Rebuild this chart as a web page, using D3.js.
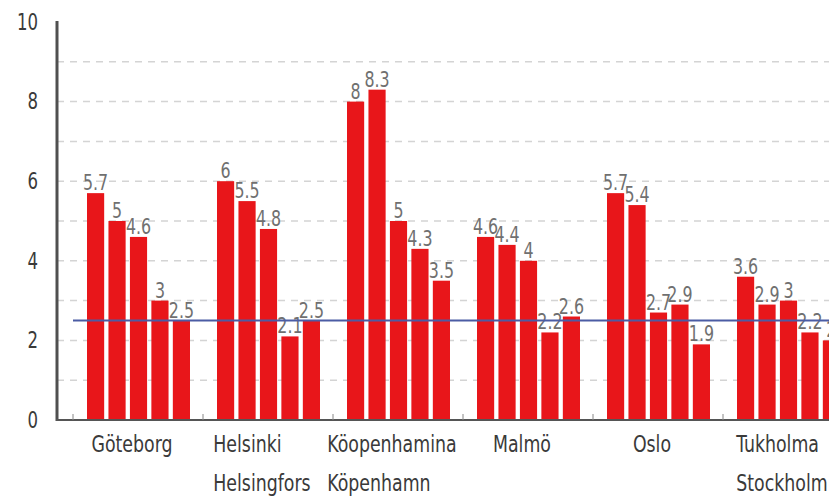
<!DOCTYPE html>
<html>
<head>
<meta charset="utf-8">
<script src="https://cdn.jsdelivr.net/npm/d3@7/dist/d3.min.js"></script>
<style>
body { margin: 0; background: #fff; }
svg { display: block; }
.lbl { font-family: "Liberation Sans Narrow", "DejaVu Sans Condensed", sans-serif; }
</style>
</head>
<body>
<script>
// ---- data ----
var cities = ["Göteborg", "Helsinki", "Köopenhamina", "Malmö", "Oslo", "Tukholma"];
var citiesSecond = ["", "Helsingfors", "Köpenhamn", "", "", "Stockholm"];
// five bars per city
var goteborg  = [5.7, 5, 4.6, 3, 2.5];
var helsinki  = [6, 5.5, 4.8, 2.1, 2.5];
var kopenhamn = [8, 8.3, 5, 4.3, 3.5];
var malmo     = [4.6, 4.4, 4, 2.2, 2.6];
var oslo      = [5.7, 5.4, 2.7, 2.9, 1.9];
var stockholm = [3.6, 2.9, 3, 2.2, 2];
var values = [goteborg, helsinki, kopenhamn, malmo, oslo, stockholm];
var meanLine = 2.5;
var yTicks = [0, 2, 4, 6, 8, 10];

var W = 829, H = 496;
var squeeze = 0.84;   // narrow the condensed font a bit more

var svg = d3.select("body").append("svg")
    .attr("width", W)
    .attr("height", H);

var y = d3.scaleLinear().domain([0, 10]).range([420, 22]);
var x0 = d3.scaleBand().domain(cities).range([73, 853]);
var x1 = d3.scaleBand().domain(d3.range(5)).range([14, 117]).paddingInner(0.2);

// gradient for top frame line
var grad = svg.append("defs").append("linearGradient")
    .attr("id", "topfade").attr("x1", "0%").attr("x2", "100%");
grad.append("stop").attr("offset", "0%").attr("stop-color", "#4d4d4d");
grad.append("stop").attr("offset", "85%").attr("stop-color", "#5a5a5a");
grad.append("stop").attr("offset", "100%").attr("stop-color", "#b5b5b5");

// dashed grid
svg.append("g").selectAll("line")
  .data(d3.range(1, 10))
  .enter().append("line")
    .attr("x1", 57).attr("x2", W)
    .attr("y1", function(d) { return y(d); })
    .attr("y2", function(d) { return y(d); })
    .attr("stroke", "#d4d4d4")
    .attr("stroke-width", 1.5)
    .attr("stroke-dasharray", "7,6");

// bars
var groups = svg.append("g").selectAll("g")
  .data(values)
  .enter().append("g")
    .attr("transform", function(d, i) { return "translate(" + x0(cities[i]) + ",0)"; });

groups.selectAll("rect")
  .data(function(d) { return d; })
  .enter().append("rect")
    .attr("x", function(d, i) { return x1(i); })
    .attr("y", function(d) { return y(d); })
    .attr("width", x1.bandwidth())
    .attr("height", function(d) { return y(0) - y(d); })
    .attr("fill", "#e8161a");

// mean line
svg.append("line")
    .attr("x1", 73).attr("x2", W)
    .attr("y1", y(meanLine)).attr("y2", y(meanLine))
    .attr("stroke", "#4b5ca4")
    .attr("stroke-width", 2);

// value labels
groups.selectAll("text")
  .data(function(d) { return d; })
  .enter().append("text")
    .attr("class", "lbl")
    .attr("transform", function(d, i) {
      return "translate(" + (x1(i) + x1.bandwidth() / 2) + "," + (y(d) - 3) + ") scale(" + squeeze + ",1)";
    })
    .attr("text-anchor", "middle")
    .attr("font-size", 21)
    .attr("fill", "#707070")
    .text(function(d) { return String(d); });

// frame
svg.append("line")
    .attr("x1", 57).attr("x2", W).attr("y1", 22).attr("y2", 22)
    .attr("stroke", "url(#topfade)").attr("stroke-width", 3);
svg.append("line")
    .attr("x1", 57).attr("x2", 57).attr("y1", 21).attr("y2", 421)
    .attr("stroke", "#505050").attr("stroke-width", 3);
svg.append("line")
    .attr("x1", 56).attr("x2", W).attr("y1", 420).attr("y2", 420)
    .attr("stroke", "#555").attr("stroke-width", 2);

// small ticks at band boundaries
svg.append("g").selectAll("line")
  .data(cities)
  .enter().append("line")
    .attr("x1", function(d) { return x0(d); })
    .attr("x2", function(d) { return x0(d); })
    .attr("y1", 420).attr("y2", 414)
    .attr("stroke", "#888").attr("stroke-width", 1);

// y axis labels
var yAxis = svg.append("g")
    .attr("transform", "translate(57,0)")
    .call(d3.axisLeft(y).tickValues(yTicks).tickSize(0).tickPadding(19));
yAxis.select(".domain").remove();
yAxis.selectAll("text")
    .attr("class", "lbl")
    .attr("font-size", 23)
    .attr("fill", "#3a3a3a")
    .attr("x", -19 / 0.8)
    .attr("transform", "scale(0.8,1)");

// category labels (two lines, left aligned block centred in band)
cities.forEach(function(c, i) {
  var g = svg.append("g");
  var t1 = g.append("text").attr("class", "lbl")
      .attr("font-size", 23).attr("fill", "#3a3a3a").text(c);
  var t2 = g.append("text").attr("class", "lbl")
      .attr("font-size", 23).attr("fill", "#3a3a3a").text(citiesSecond[i]);
  var w = squeeze * Math.max(t1.node().getComputedTextLength(), t2.node().getComputedTextLength());
  var left = x0(c) + x0.bandwidth() / 2 - 6 - w / 2;
  t1.attr("transform", "translate(" + left + ",452) scale(" + squeeze + ",1)");
  t2.attr("transform", "translate(" + left + ",491) scale(" + squeeze + ",1)");
});
</script>
</body>
</html>
